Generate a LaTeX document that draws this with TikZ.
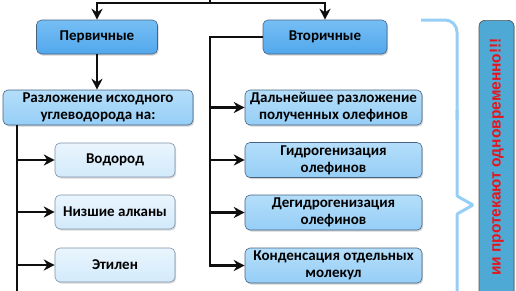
\documentclass[tikz,border=0pt]{standalone}
\usepackage{fontspec}
\setmainfont{Carlito}
\newfontfamily\notefont{Liberation Sans}
\usetikzlibrary{arrows.meta, positioning, shadows}
\definecolor{mydark}{RGB}{15,15,15}
\definecolor{boxframe}{RGB}{70,100,130}
\definecolor{mainblue}{RGB}{82,168,236}
\definecolor{mainlight}{RGB}{118,190,245}
\definecolor{midblue}{RGB}{150,206,246}
\definecolor{midlight}{RGB}{180,222,250}
\definecolor{paleblue}{RGB}{210,234,251}
\definecolor{palelight}{RGB}{234,245,253}
\definecolor{bracecol}{RGB}{150,206,245}
\definecolor{notefill}{RGB}{78,170,212}
\definecolor{notered}{RGB}{228,22,30}
\tikzset{
  mainbox/.style={rectangle, draw=boxframe, top color=mainlight, bottom color=mainblue,
    minimum width=121pt, minimum height=34pt, align=center,
    font=\bfseries\fontsize{15}{17}\selectfont, rounded corners=5pt, line width=0.6pt,
    drop shadow={shadow xshift=1.2pt, shadow yshift=-1.5pt, opacity=0.35}},
  subbox/.style={rectangle, draw=boxframe, top color=midlight, bottom color=midblue,
    minimum width=177pt, minimum height=35pt, align=center, inner sep=0pt,
    font=\bfseries\fontsize{15}{17}\selectfont, rounded corners=5pt, line width=0.6pt,
    drop shadow={shadow xshift=1.2pt, shadow yshift=-1.5pt, opacity=0.35}},
  leafbox/.style={rectangle, draw=boxframe!70, top color=palelight, bottom color=paleblue,
    minimum width=120pt, minimum height=34pt, align=center,
    font=\bfseries\fontsize{15}{17}\selectfont, rounded corners=5pt, line width=0.6pt,
    drop shadow={shadow xshift=1.2pt, shadow yshift=-1.5pt, opacity=0.3}},
  notebox/.style={rectangle, draw=mydark!70, fill=notefill, rounded corners=6pt, line width=0.7pt,
    drop shadow={shadow xshift=1.2pt, shadow yshift=-1.5pt, opacity=0.3}},
  arrow/.style={-{Stealth[length=11pt,width=11pt]}, line width=2.6pt, color=mydark},
  line/.style={line width=2.6pt, color=mydark},
  brace/.style={line width=3pt, color=bracecol, rounded corners=12pt}
}
\begin{document}
\begin{tikzpicture}[x=1pt, y=-1pt]
  \useasboundingbox (0,0) rectangle (516,290);
  % top level
  \node[mainbox] (perv) at (97,37) {Первичные};
  \node[mainbox, minimum width=124pt] (vtor) at (325,37) {Вторичные};
  \coordinate (src) at (210,-10);
  \coordinate (split) at (210,3);
  \draw[line] (src) -- (split);
  \draw[arrow] (split) -| (perv);
  \draw[arrow] (split) -| (vtor);
  % primary branch
  \node[subbox, minimum width=190pt] (razl) at (98,107.5) {Разложение исходного\\углеводорода на:};
  \draw[arrow] (perv) -- (razl.north -| perv);
  \node[leafbox] (vodorod) at (115,160) {Водород};
  \node[leafbox] (alkany)  at (115,212) {Низшие алканы};
  \node[leafbox] (etilen)  at (115,265) {Этилен};
  \coordinate (ltop) at (17,125);
  \coordinate (lbot) at (17,300);
  \draw[line] (ltop) -- (lbot);
  \foreach \n in {vodorod, alkany, etilen}
    \draw[arrow] (ltop |- \n) -- (\n);
  % secondary branch
  \node[subbox] (dalnee)  at (333.5,107.5) {Дальнейшее разложение\\полученных олефинов};
  \node[subbox] (gidro)   at (333.5,160)   {Гидрогенизация\\олефинов};
  \node[subbox] (degidro) at (333.5,212.5) {Дегидрогенизация\\олефинов};
  \node[subbox] (kond)    at (333.5,265.5) {Конденсация отдельных\\молекул};
  \coordinate (rbot) at (210,265.5);
  \draw[arrow] (vtor.west) -| (rbot) -- (kond);
  \foreach \n in {dalnee, gidro, degidro}
    \draw[arrow] (rbot |- \n) -- (\n);
  % brace and note
  \draw[brace] (421,20) -- (457,20) -- (457,120);
  \draw[brace, rounded corners=1pt] (457,110) -- (457,196) -- (473,205) -- (457,214) -- (457,300);
  \node[notebox, minimum width=35pt, minimum height=290pt, anchor=north] (notebg) at (496.5,20) {};
  \node[rotate=90, anchor=east, inner sep=0pt, text=notered,
    font=\notefont\bfseries\fontsize{15.5}{18}\selectfont] (note) at (497,38) {ии протекают одновременно!!!};
\end{tikzpicture}
\end{document}
